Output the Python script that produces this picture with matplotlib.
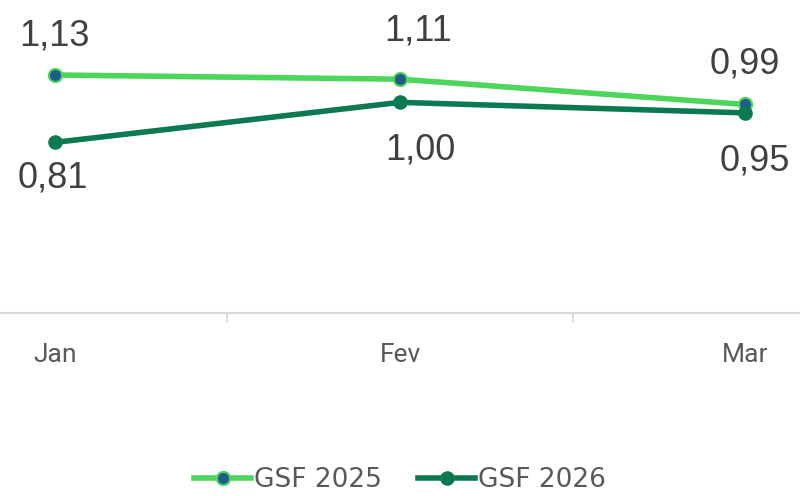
import matplotlib.pyplot as plt

months = ['Jan', 'Fev', 'Mar']
gsf_2025 = [1.13, 1.11, 0.99]
gsf_2026 = [0.81, 1.00, 0.95]

light_green = '#4cd65b'
dark_green = '#0b7a50'
blue = '#1f5c8a'
gray = '#595959'
label_gray = '#404040'

fig = plt.figure(figsize=(8, 4.96), dpi=100)
ax = fig.add_axes([0, 0.369, 1, 0.631])

x = list(range(len(months)))
l1, = ax.plot(x, gsf_2025, color=light_green, lw=4, marker='o', ms=9.5,
              mfc=blue, mec=light_green, mew=1.5, label='GSF 2025', zorder=3)
l2, = ax.plot(x, gsf_2026, color=dark_green, lw=4, marker='o', ms=9.5,
              mfc=dark_green, mec=dark_green, label='GSF 2026', zorder=3)

ax.set_xlim(-0.159, 2.159)
ax.set_ylim(0, 1.486)

# data labels, offsets in pixels
offsets_2025 = [(0, 39), (18, 48), (0, 40)]
offsets_2026 = [(-2, -36), (20, -48), (10, -48)]
for vals, offs in [(gsf_2025, offsets_2025), (gsf_2026, offsets_2026)]:
    for i, v in enumerate(vals):
        ax.annotate(f'{v:.2f}'.replace('.', ','), (i, v), xytext=offs[i],
                    textcoords='offset pixels', ha='center', va='center',
                    fontsize=26, color=label_gray, family='Liberation Sans')

for s in ['top', 'left', 'right']:
    ax.spines[s].set_visible(False)
ax.spines['bottom'].set_color('#d9d9d9')
ax.spines['bottom'].set_linewidth(1.5)
ax.set_yticks([])
ax.set_xticks([0.5, 1.5])
ax.set_xticklabels([])
ax.tick_params(axis='x', length=7, color='#d9d9d9', width=1.2)
for i, m in enumerate(months):
    ax.text(i, -0.2, m, ha='center', va='center', fontsize=19, color=gray,
            family=['Liberation Sans Narrow', 'Roboto'], clip_on=False)

fig.legend(handles=[l1, l2], loc='center', bbox_to_anchor=(0.5, 0.032),
           ncol=2, frameon=False, fontsize=19, labelcolor=gray,
           handlelength=2.15, handletextpad=0.1, columnspacing=1.4,
           borderaxespad=0, borderpad=0.1)

fig.savefig('out.png', dpi=100)
